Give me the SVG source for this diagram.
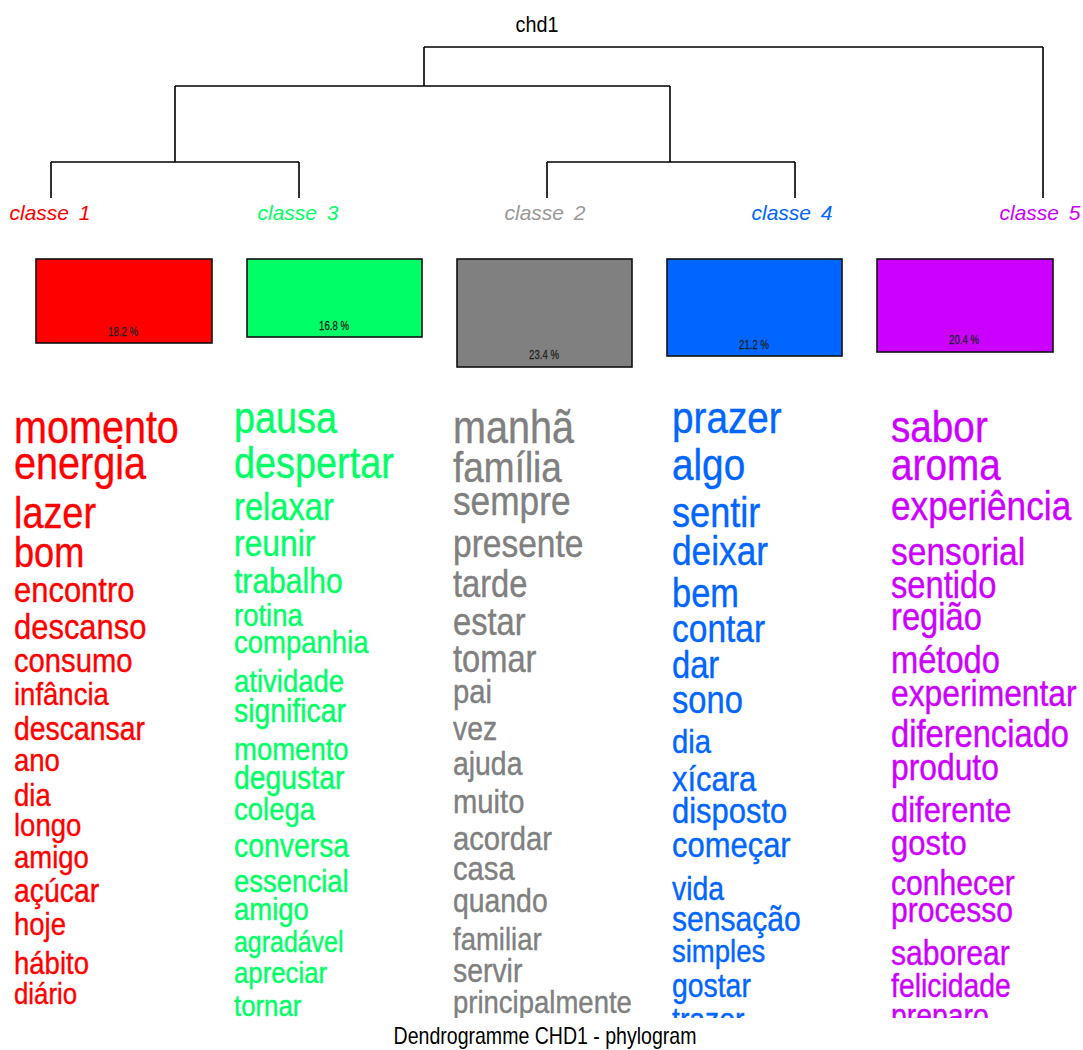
<svg xmlns="http://www.w3.org/2000/svg" width="1083" height="1050" viewBox="0 0 1083 1050">
<style>
text{font-family:"Liberation Sans",Arial,Helvetica,sans-serif}
.ln{stroke:#000;stroke-width:1.6;fill:none}
.box{stroke:#111;stroke-width:1.6}
.pct{font-size:12px;fill:#222;stroke:#222;stroke-width:0.25;text-anchor:middle}
.lab{font-size:21px;font-style:italic;text-anchor:middle;word-spacing:4px}
.r{fill:#FF0000}.g{fill:#00FF66}.k{fill:#808080}.b{fill:#0066FF}.p{fill:#CC00FF}
.wr{fill:#FF0000;stroke:#FF0000;stroke-width:0.4}
.wg{fill:#00FF66;stroke:#00FF66;stroke-width:0.4}
.wk{fill:#808080;stroke:#808080;stroke-width:0.4}
.wb{fill:#0066FF;stroke:#0066FF;stroke-width:0.4}
.wp{fill:#CC00FF;stroke:#CC00FF;stroke-width:0.4}
</style>
<defs>
<clipPath id="wc"><rect x="0" y="380" width="1083" height="638"/></clipPath>
</defs>
<rect width="1083" height="1050" fill="#fff"/>
<text x="0" y="0" font-size="22" transform="translate(537,32) scale(0.9,1)" text-anchor="middle" fill="#000">chd1</text>
<g id="connectors">
<path class="ln" d="M424,47 H1043 M424,47 V86 M175,86 H670 M175,86 V162 M670,86 V162 M51,162 H299 M547,162 H795 M51,162 V198 M299,162 V198 M547,162 V198 M795,162 V198 M1043,47 V198"/>
</g>
<g id="class1">
<text class="lab r" x="50" y="220">classe 1</text>
<rect class="box" x="36" y="259" width="176" height="84" fill="#FF0000"/>
<text class="pct" transform="translate(123,336) scale(0.8,1)">18.2 %</text>
</g>
<g id="class3">
<text class="lab g" x="298" y="220">classe 3</text>
<rect class="box" x="247" y="259" width="175" height="78" fill="#00FF66"/>
<text class="pct" transform="translate(334,330) scale(0.8,1)">16.8 %</text>
</g>
<g id="class2">
<text class="lab" fill="#999999" x="545" y="220">classe 2</text>
<rect class="box" x="457" y="259" width="175" height="108" fill="#808080"/>
<text class="pct" transform="translate(544,359) scale(0.8,1)">23.4 %</text>
</g>
<g id="class4">
<text class="lab b" x="792" y="220">classe 4</text>
<rect class="box" x="667" y="259" width="175" height="97" fill="#0066FF"/>
<text class="pct" transform="translate(754,349) scale(0.8,1)">21.2 %</text>
</g>
<g id="class5">
<text class="lab p" x="1040" y="220">classe 5</text>
<rect class="box" x="877" y="259" width="176" height="93" fill="#CC00FF"/>
<text class="pct" transform="translate(964,344) scale(0.8,1)">20.4 %</text>
</g>
<g id="words" clip-path="url(#wc)">
<g id="words1" class="wr" transform="translate(14,0) scale(0.86,1)">
<text y="443" font-size="46">momento</text>
<text y="479" font-size="46">energia</text>
<text y="528" font-size="44">lazer</text>
<text y="567" font-size="42">bom</text>
<text y="602" font-size="36">encontro</text>
<text y="639" font-size="36">descanso</text>
<text y="672" font-size="34">consumo</text>
<text y="705" font-size="32">infância</text>
<text y="740" font-size="33">descansar</text>
<text y="771" font-size="32">ano</text>
<text y="806" font-size="32">dia</text>
<text y="836" font-size="32">longo</text>
<text y="868" font-size="32">amigo</text>
<text y="902" font-size="33">açúcar</text>
<text y="935" font-size="32">hoje</text>
<text y="974" font-size="32">hábito</text>
<text y="1004" font-size="30">diário</text>
</g>
<g id="words3" class="wg" transform="translate(234,0) scale(0.86,1)">
<text y="433" font-size="44">pausa</text>
<text y="478" font-size="44">despertar</text>
<text y="520" font-size="38">relaxar</text>
<text y="556" font-size="37">reunir</text>
<text y="593" font-size="35">trabalho</text>
<text y="626" font-size="32">rotina</text>
<text y="653" font-size="32">companhia</text>
<text y="692" font-size="32">atividade</text>
<text y="722" font-size="33">significar</text>
<text y="760" font-size="32">momento</text>
<text y="789" font-size="33">degustar</text>
<text y="820" font-size="32">colega</text>
<text y="857" font-size="33">conversa</text>
<text y="892" font-size="32">essencial</text>
<text y="920" font-size="32">amigo</text>
<text y="952" font-size="29">agradável</text>
<text y="983" font-size="30">apreciar</text>
<text y="1016" font-size="30">tornar</text>
</g>
<g id="words2" class="wk" transform="translate(453,0) scale(0.86,1)">
<text y="443" font-size="46">manhã</text>
<text y="482" font-size="43">família</text>
<text y="515" font-size="41">sempre</text>
<text y="557" font-size="39">presente</text>
<text y="597" font-size="38">tarde</text>
<text y="635" font-size="38">estar</text>
<text y="672" font-size="38">tomar</text>
<text y="703" font-size="34">pai</text>
<text y="740" font-size="33">vez</text>
<text y="775" font-size="33">ajuda</text>
<text y="813" font-size="34">muito</text>
<text y="850" font-size="34">acordar</text>
<text y="880" font-size="34">casa</text>
<text y="912" font-size="33">quando</text>
<text y="950" font-size="32">familiar</text>
<text y="982" font-size="33">servir</text>
<text y="1013" font-size="32">principalmente</text>
</g>
<g id="words4" class="wb" transform="translate(672,0) scale(0.86,1)">
<text y="433" font-size="45">prazer</text>
<text y="480" font-size="45">algo</text>
<text y="527" font-size="42">sentir</text>
<text y="565" font-size="41">deixar</text>
<text y="607" font-size="40">bem</text>
<text y="642" font-size="39">contar</text>
<text y="678" font-size="38">dar</text>
<text y="713" font-size="38">sono</text>
<text y="753" font-size="34">dia</text>
<text y="791" font-size="36">xícara</text>
<text y="823" font-size="36">disposto</text>
<text y="857" font-size="36">começar</text>
<text y="900" font-size="33">vida</text>
<text y="931" font-size="35">sensação</text>
<text y="962" font-size="32">simples</text>
<text y="997" font-size="33">gostar</text>
<text y="1031" font-size="33">trazer</text>
</g>
<g id="words5" class="wp" transform="translate(891,0) scale(0.86,1)">
<text y="442" font-size="45">sabor</text>
<text y="480" font-size="45">aroma</text>
<text y="520" font-size="41">experiência</text>
<text y="565" font-size="39">sensorial</text>
<text y="598" font-size="38">sentido</text>
<text y="630" font-size="38">região</text>
<text y="673" font-size="38">método</text>
<text y="706" font-size="37">experimentar</text>
<text y="747" font-size="38">diferenciado</text>
<text y="780" font-size="37">produto</text>
<text y="822" font-size="36">diferente</text>
<text y="855" font-size="36">gosto</text>
<text y="895" font-size="35">conhecer</text>
<text y="922" font-size="35">processo</text>
<text y="965" font-size="35">saborear</text>
<text y="997" font-size="33">felicidade</text>
<text y="1027" font-size="33">preparo</text>
</g>
</g>
<text transform="translate(545,1044) scale(0.85,1)" font-size="23" text-anchor="middle" fill="#000">Dendrogramme CHD1 - phylogram</text>
</svg>
